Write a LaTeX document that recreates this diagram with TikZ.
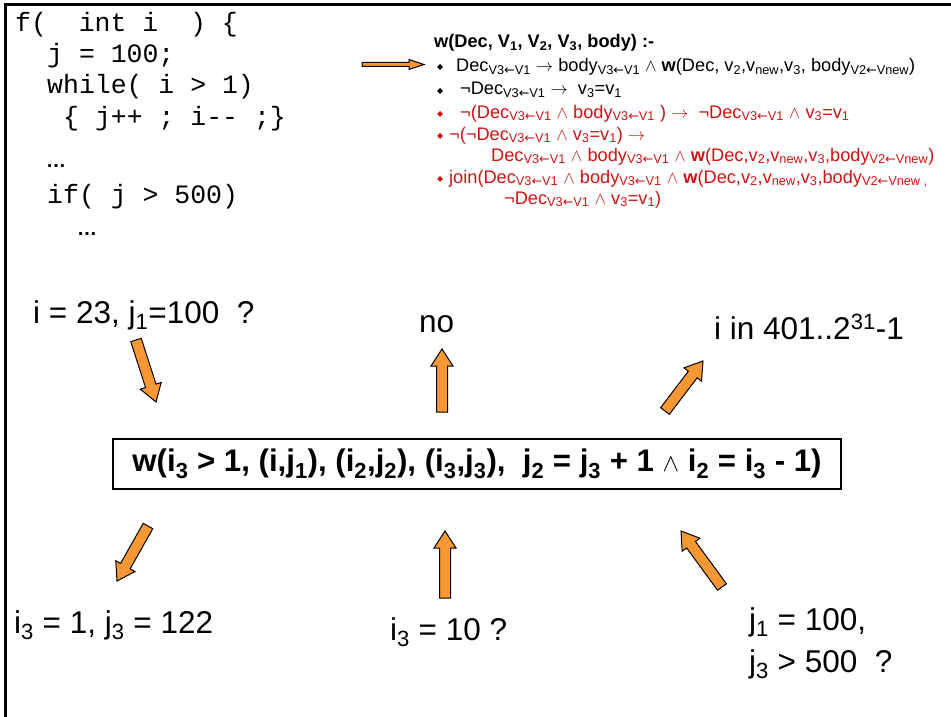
\documentclass[tikz,border=0pt]{standalone}
\usepackage{fontspec}
\setmainfont{Liberation Sans}
\newfontfamily\codefont{Liberation Mono}
\newfontfamily\symfont{DejaVu Sans}
\usetikzlibrary{calc}

\definecolor{arroworange}{RGB}{248,152,52}
\definecolor{formred}{RGB}{205,20,20}

% symbols in the formula lines
\newcommand{\lar}{{\symfont ←}}
\newcommand{\rar}{$\rightarrow$}
\newcommand{\andop}{$\wedge$}
\newcommand{\vsub}{\textsubscript{V3\lar V1}}
\newcommand{\nsub}{\textsubscript{V2\lar Vnew}}
\newcommand{\sub}[1]{\textsubscript{#1}}

% block arrow: tail, head, shaft half width, head half width, head length
\newcommand{\blockarrow}[5]{%
  \coordinate (ab) at ($(#2)!#5!(#1)$);
  \draw[arrowbody] ($(#1)!#3!90:(#2)$) -- ($(ab)!#3!90:(#2)$) -- ($(ab)!#4!90:(#2)$)
    -- (#2) -- ($(ab)!#4!-90:(#2)$) -- ($(ab)!#3!-90:(#2)$) -- ($(#1)!#3!-90:(#2)$) -- cycle;
}

\tikzset{
  arrowbody/.style={fill=arroworange, draw=black, line width=1pt, line join=miter},
  codeline/.style={anchor=base west, inner sep=0pt, font=\codefont\fontsize{26.5}{30}\selectfont},
  dots/.style={anchor=base west, inner sep=0pt, font=\bfseries\fontsize{20}{22}\selectfont},
  formula/.style={anchor=base west, inner sep=0pt, font=\fontsize{18.2}{22}\selectfont},
  bullet/.style={anchor=base west, inner sep=0pt, font=\symfont\fontsize{8}{8}\selectfont},
  biglabel/.style={anchor=base west, inner sep=0pt, font=\fontsize{31.5}{36}\selectfont},
}

\begin{document}
\begin{tikzpicture}[x=1pt, y=-1pt]
  \useasboundingbox (0,0) rectangle (951,717);

  % frame, left and top only
  \draw[line width=3pt] (5,717) -- (5,5) -- (951,5);

  % source code
  \node[codeline] (c1) at (15,32)  {f(\ \ int i\ \ ) \{};
  \node[codeline] (c2) at (47,63)  {j = 100;};
  \node[codeline] (c3) at (47,94)  {while( i > 1)};
  \node[codeline] (c4) at (63,125) {\{ j++ ; i-- ;\}};
  \node[dots]     (c5) at (46,167) {…};
  \node[codeline] (c6) at (47,203) {if( j > 500)};
  \node[dots]     (c7) at (77,235) {…};

  % definition of w
  \node[formula] (f0) at (434,48) {\textbf{w(Dec, V\sub{1}, V\sub{2}, V\sub{3}, body) :-}};
  \node[bullet] (b1) at (437,70) {◆};
  \node[formula] (f1) at (456,72) {Dec\vsub{} \rar{} body\vsub{} \andop{} \textbf{w}(Dec, v\sub{2},v\sub{new},v\sub{3}, body\nsub)};
  \node[bullet] (b2) at (437,93) {◆};
  \node[formula] (f2) at (460,95) {¬Dec\vsub{} \rar{}\ \ v\sub{3}=v\sub{1}};
  \begin{scope}[formred]
    \node[bullet] (b3) at (437,116) {◆};
    \node[formula] (f3) at (460,118) {¬(Dec\vsub{} \andop{} body\vsub{} ) \rar{}\ \ ¬Dec\vsub{} \andop{} v\sub{3}=v\sub{1}};
    \node[bullet] (b4) at (437,138) {◆};
    \node[formula] (f4) at (449,140) {¬(¬Dec\vsub{} \andop{} v\sub{3}=v\sub{1}) \rar};
    \node[formula] (f5) at (491,161) {Dec\vsub{} \andop{} body\vsub{} \andop{} \textbf{w}(Dec,v\sub{2},v\sub{new},v\sub{3},body\nsub)};
    \node[bullet] (b6) at (437,181) {◆};
    \node[formula] (f6) at (449,183) {join(Dec\vsub{} \andop{} body\vsub{} \andop{} \textbf{w}(Dec,v\sub{2},v\sub{new},v\sub{3},body\textsubscript{V2\lar Vnew ,}};
    \node[formula] (f7) at (504,204) {¬Dec\vsub{} \andop{} v\sub{3}=v\sub{1})};
  \end{scope}

  % small arrow into the definition
  \coordinate (t0) at (362,64.5);
  \coordinate (h0) at (424,64.5);
  \blockarrow{t0}{h0}{2pt}{5pt}{15pt}

  % question labels above
  \node[biglabel] (q1) at (33,323)  {i = 23, j\sub{1}=100\ \ ?};
  \node[biglabel] (q2) at (419,332) {no};
  \node[biglabel] (q3) at (714,339) {i in 401..2\textsuperscript{31}-1};

  % the w term
  \node[draw, line width=1.5pt, minimum width=728pt, minimum height=50pt, inner sep=0pt,
        font=\bfseries\fontsize{31.2}{36}\selectfont] (wterm) at (477,464)
    {w(i\sub{3} > 1, (i,j\sub{1}), (i\sub{2},j\sub{2}), (i\sub{3},j\sub{3}),\ \ j\sub{2} = j\sub{3} + 1 \andop{} i\sub{2} = i\sub{3} - 1)};

  % question labels below
  \node[biglabel] (q4) at (14,633)  {i\sub{3} = 1, j\sub{3} = 122};
  \node[biglabel] (q5) at (390,640) {i\sub{3} = 10 ?};
  \node[biglabel] (q6) at (749,630) {j\sub{1} = 100,};
  \node[biglabel] (q7) at (749,672) {j\sub{3} > 500\ \ ?};

  % arrows between the labels and the term
  \coordinate (ta) at (136,340); \coordinate (ha) at (156,402);
  \coordinate (tb) at (442,412); \coordinate (hb) at (442,349);
  \coordinate (tc) at (665,411); \coordinate (hc) at (703,361);
  \coordinate (td) at (148,526); \coordinate (hd) at (117,581);
  \coordinate (te) at (445,598); \coordinate (he) at (445,531);
  \coordinate (tf) at (722,587); \coordinate (hf) at (681,531);
  \blockarrow{ta}{ha}{5.5pt}{11pt}{17pt}
  \blockarrow{tb}{hb}{5.5pt}{11pt}{17pt}
  \blockarrow{tc}{hc}{5.5pt}{11pt}{17pt}
  \blockarrow{td}{hd}{5.5pt}{11pt}{17pt}
  \blockarrow{te}{he}{5.5pt}{11pt}{17pt}
  \blockarrow{tf}{hf}{5.5pt}{11pt}{17pt}
\end{tikzpicture}
\end{document}
